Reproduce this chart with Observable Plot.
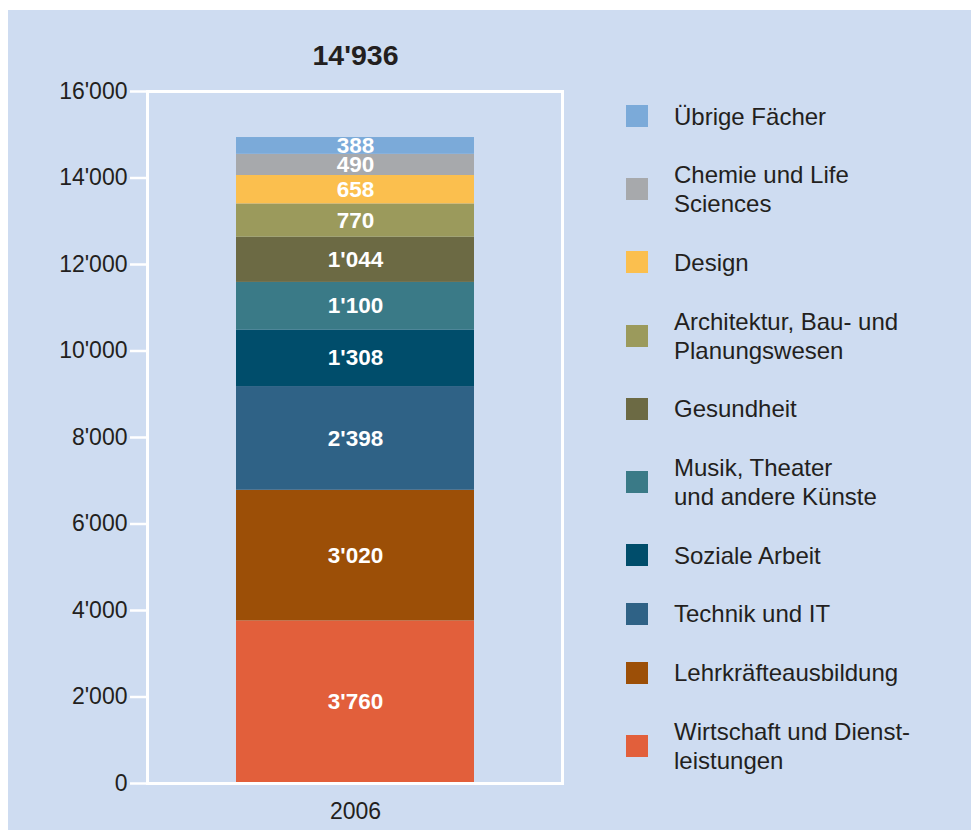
<!DOCTYPE html>
<html>
<head>
<meta charset="utf-8">
<script src="https://cdn.jsdelivr.net/npm/d3@7"></script>
<script src="https://cdn.jsdelivr.net/npm/@observablehq/plot@0.6"></script>
<style>
  html, body { margin: 0; padding: 0; background: #ffffff; }
  body { width: 971px; height: 830px; position: relative; overflow: hidden; font-family: "Liberation Sans", Arial, sans-serif; }
  #panel { position: absolute; left: 8px; top: 10px; width: 963px; height: 820px; background: #cedcf1; }
  #chart { position: absolute; left: 0; top: 0; }
  #legend { position: absolute; left: 626px; top: 101.5px; display: flex; flex-direction: column; gap: 29.7px; }
  .row { display: flex; align-items: center; }
  .sw { width: 22px; height: 22px; flex: none; margin-right: 26px; }
  .lab { font-size: 24px; line-height: 29px; color: #231f20; white-space: pre-line; }
</style>
</head>
<body>
<div id="panel"></div>
<div id="chart"></div>
<div id="legend"></div>
<script>
// ---- data (bottom of stack first) ----
const year = "2006";
const categories = [
  "Wirtschaft und Dienstleistungen",
  "Lehrkräfteausbildung",
  "Technik und IT",
  "Soziale Arbeit",
  "Musik, Theater und andere Künste",
  "Gesundheit",
  "Architektur, Bau- und Planungswesen",
  "Design",
  "Chemie und Life Sciences",
  "Übrige Fächer"
];
const values = [3760, 3020, 2398, 1308, 1100, 1044, 770, 658, 490, 388];
const colors = ["#e25f3b", "#9c4f07", "#2f6286", "#004d6b", "#3a7a87", "#6c6a44", "#9b9a5c", "#fbbf4e", "#a7a9ac", "#7baad9"];
const legendLabels = [
  "Wirtschaft und Dienst-\nleistungen",
  "Lehrkräfteausbildung",
  "Technik und IT",
  "Soziale Arbeit",
  "Musik, Theater\nund andere Künste",
  "Gesundheit",
  "Architektur, Bau- und\nPlanungswesen",
  "Design",
  "Chemie und Life\nSciences",
  "Übrige Fächer"
];
const yTicks = [0, 2000, 4000, 6000, 8000, 10000, 12000, 14000, 16000];

// ---- formatting with apostrophe thousands separator ----
const locale = d3.formatLocale({decimal: ".", thousands: "'", grouping: [3], currency: ["", ""]});
const fmt = locale.format(",d");

const data = categories.map((c, i) => ({year, category: c, value: values[i]}));
const total = d3.sum(values);

const chart = Plot.plot({
  width: 600,
  height: 830,
  marginLeft: 147,
  marginRight: 38,
  marginTop: 91,
  marginBottom: 47,
  style: {background: "transparent", color: "#231f20", fontFamily: "'Liberation Sans', Arial, sans-serif", overflow: "visible"},
  x: {type: "band", domain: [year], padding: 0.271, label: null},
  y: {domain: [0, 16000], label: null},
  color: {domain: categories, range: colors},
  marks: [
    Plot.barY(data, {x: "year", y: "value", fill: "category"}),
    Plot.frame({stroke: "white", strokeWidth: 3}),
    Plot.axisY({ticks: yTicks, tickSize: 17, tickPadding: 3, stroke: "white", strokeWidth: 2.5, fill: "#231f20", fontSize: 23, tickFormat: fmt, label: null}),
    Plot.axisX({tickSize: 0, tickPadding: 19, fontSize: 23, fill: "#231f20", label: null}),
    Plot.text(data, Plot.stackY({
      x: "year", y: "value",
      text: d => fmt(d.value),
      fill: "white", fontWeight: "bold", fontSize: 22.5,
      fontFamily: "'Liberation Sans', Arial, sans-serif"
    })),
    Plot.text([total], {
      x: () => year, frameAnchor: "top", lineAnchor: "middle", dy: -36,
      text: d => fmt(d), fontWeight: "bold", fontSize: 28.5, fill: "#231f20"
    })
  ]
});
document.getElementById("chart").appendChild(chart);

// ---- legend (top of stack first) ----
const legend = document.getElementById("legend");
for (let i = categories.length - 1; i >= 0; i--) {
  const row = document.createElement("div");
  row.className = "row";
  const sw = document.createElement("div");
  sw.className = "sw";
  sw.style.background = colors[i];
  const lab = document.createElement("div");
  lab.className = "lab";
  lab.textContent = legendLabels[i];
  row.appendChild(sw);
  row.appendChild(lab);
  legend.appendChild(row);
}
</script>
</body>
</html>
